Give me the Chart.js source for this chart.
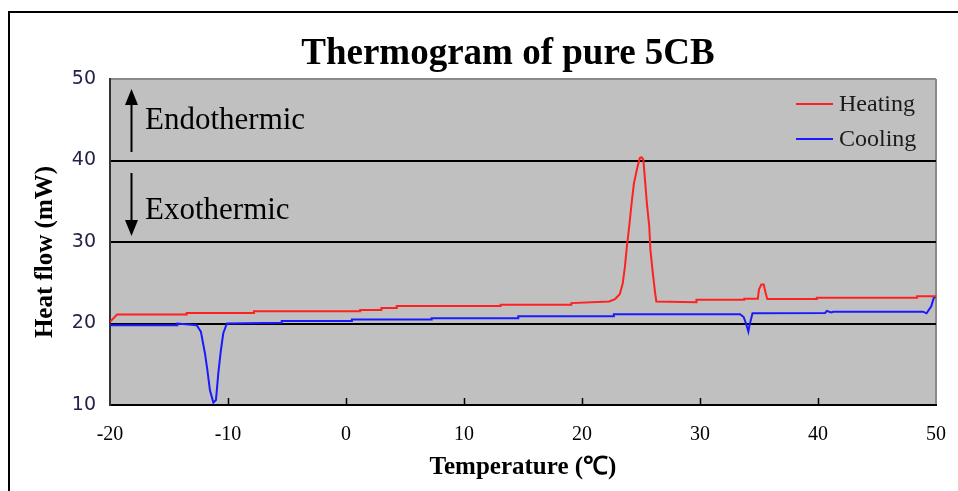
<!DOCTYPE html>
<html>
<head>
<meta charset="utf-8">
<script src="https://cdn.jsdelivr.net/npm/chart.js@4"></script>
<style>
  body { margin: 0; background: #fff; }
  #wrap { position: relative; width: 958px; height: 491px; }
</style>
</head>
<body>
<div id="wrap"><canvas id="Thermo-Chart"></canvas></div>
<script>
// heating run (red), temperature in C and heat flow in mW
const heatT = [-20, -19.4, -13.5, -13.5, -7.8, -7.8, 1.2, 1.2, 3.0, 3.0, 4.3, 4.3, 13.1, 13.1, 19.1, 19.1,
  22.3, 22.8, 23.2, 23.45, 23.64, 23.8, 24.0, 24.2, 24.4, 24.7, 24.9, 25.05, 25.2, 25.34, 25.5, 25.7, 25.8,
  26.0, 26.2, 26.3, 29.7, 29.7, 33.75, 33.75, 34.9, 35.0, 35.2, 35.4, 35.5, 35.7, 39.9, 39.9, 48.4, 48.4, 50];
const heatFlow = [20.2, 21.1, 21.1, 21.3, 21.3, 21.5, 21.5, 21.65, 21.65, 21.9, 21.9, 22.15, 22.15, 22.3, 22.3, 22.5,
  22.7, 23.0, 23.6, 24.9, 27.0, 29.4, 31.9, 34.7, 37.2, 39.2, 40.3, 40.4, 40.1, 37.6, 34.7, 31.9, 29.0,
  26.2, 23.7, 22.7, 22.6, 22.9, 22.9, 23.05, 23.05, 24.2, 24.8, 24.8, 24.1, 23.0, 23.0, 23.15, 23.15, 23.35, 23.35];

// cooling run (blue)
const coolT = [-20, -14.3, -14.3, -12.65, -12.3, -11.95, -11.75, -11.53, -11.24, -11.02, -10.82, -10.6, -10.4, -10.1,
  -5.45, -5.45, 0.5, 0.5, 7.26, 7.26, 14.6, 14.6, 22.7, 22.7, 33.4, 33.7, 33.9, 34.1, 34.2, 34.45,
  40.6, 40.75, 41.1, 41.3, 48.9, 49.2, 49.6, 49.8, 50];
const coolFlow = [19.8, 19.8, 20.0, 19.8, 19.0, 16.3, 14.3, 11.8, 10.3, 10.6, 13.9, 16.75, 18.8, 20.0,
  20.1, 20.3, 20.3, 20.5, 20.5, 20.65, 20.65, 20.9, 20.9, 21.15, 21.15, 20.8, 20.0, 19.0, 19.8, 21.25,
  21.3, 21.55, 21.35, 21.45, 21.45, 21.25, 22.1, 23.1, 23.3];

const xTicks = [-20, -10, 0, 10, 20, 30, 40, 50];
const yTicks = [10, 20, 30, 40, 50];

const toPoints = (xs, ys) => xs.map((x, i) => ({ x: x, y: ys[i] }));

const serif = '"Liberation Serif", "Times New Roman", serif';

const deco = {
  id: 'deco',
  beforeDraw(chart) {
    const { ctx, chartArea: a } = chart;
    ctx.save();
    ctx.fillStyle = '#c0c0c0';
    ctx.fillRect(a.left, a.top, a.right - a.left, a.bottom - a.top);
    ctx.restore();
  },
  afterDraw(chart) {
    const { ctx, chartArea: a } = chart;
    const xs = chart.scales.x;
    ctx.save();

    // outer frame (top + left only)
    ctx.strokeStyle = '#000';
    ctx.lineWidth = 2;
    ctx.beginPath();
    ctx.moveTo(9, 491);
    ctx.lineTo(9, 12);
    ctx.lineTo(958, 12);
    ctx.stroke();

    // x tick marks pointing into the plot
    ctx.lineWidth = 1.5;
    xTicks.slice(1, -1).forEach(v => {
      const px = Math.round(xs.getPixelForValue(v)) + 0.5;
      ctx.beginPath();
      ctx.moveTo(px, a.bottom);
      ctx.lineTo(px, a.bottom - 7);
      ctx.stroke();
    });

    // title
    ctx.fillStyle = '#000';
    ctx.font = 'bold 37px ' + serif;
    ctx.textAlign = 'center';
    ctx.textBaseline = 'middle';
    ctx.fillText('Thermogram of pure 5CB', 508, 54);

    // y axis title
    ctx.save();
    ctx.translate(46, 252);
    ctx.rotate(-Math.PI / 2);
    ctx.font = 'bold 25px ' + serif;
    ctx.fillText('Heat flow (mW)', 0, 0);
    ctx.restore();

    // endo / exo arrows
    ctx.font = '31px ' + serif;
    ctx.textAlign = 'left';
    ctx.fillText('Endothermic', 145, 121);
    ctx.fillText('Exothermic', 145, 211);
    ctx.lineWidth = 2;
    ctx.beginPath();
    ctx.moveTo(131.5, 152); ctx.lineTo(131.5, 100);
    ctx.moveTo(131.5, 173); ctx.lineTo(131.5, 225);
    ctx.stroke();
    ctx.beginPath();
    ctx.moveTo(131.5, 89); ctx.lineTo(125, 105); ctx.lineTo(138, 105); ctx.closePath();
    ctx.moveTo(131.5, 236); ctx.lineTo(125, 220); ctx.lineTo(138, 220); ctx.closePath();
    ctx.fill();

    // legend
    chart.data.datasets.forEach((ds, i) => {
      const y = 104 + i * 35;
      ctx.strokeStyle = ds.borderColor;
      ctx.lineWidth = 2;
      ctx.beginPath();
      ctx.moveTo(796, y); ctx.lineTo(833, y);
      ctx.stroke();
      ctx.fillStyle = '#1a1a1a';
      ctx.font = '24px ' + serif;
      ctx.fillText(ds.label, 839, y + 1);
    });
    ctx.restore();
  }
};

const data = {
  datasets: [
    {
      label: 'Heating',
      data: toPoints(heatT, heatFlow),
      borderColor: '#ff2020',
      borderWidth: 2,
      pointRadius: 0,
      tension: 0,
    },
    {
      label: 'Cooling',
      data: toPoints(coolT, coolFlow),
      borderColor: '#1a1aff',
      borderWidth: 2,
      pointRadius: 0,
      tension: 0,
    },
  ],
};

const config = {
  type: 'line',
  data: data,
  options: {
    maintainAspectRatio: false,
    animation: false,
    layout: { padding: { top: 79, right: 22, left: 0, bottom: 0 } },
    plugins: {
      legend: { display: false },
      tooltip: { enabled: false },
    },
    scales: {
      x: {
        type: 'linear',
        min: -20,
        max: 50,
        afterBuildTicks: s => { s.ticks = xTicks.map(v => ({ value: v })); },
        afterFit: s => { s.height = 86; s.paddingLeft = 0; s.paddingRight = 0; },
        grid: {
          drawTicks: false,
          lineWidth: 2,
          color: c => (c.tick && c.tick.value === 50 ? '#8a8a8a' : 'transparent'),
        },
        border: { color: '#000', width: 2 },
        ticks: {
          padding: 18,
          color: '#000',
          font: { family: serif, size: 20 },
        },
        title: {
          display: true,
          text: 'Temperature (℃)',
          color: '#000',
          font: { family: serif, size: 25, weight: 'bold' },
          padding: { bottom: 8 },
        },
      },
      y: {
        min: 10,
        max: 50,
        afterBuildTicks: s => { s.ticks = yTicks.map(v => ({ value: v })); },
        afterFit: s => { s.width = 110; s.paddingTop = 0; s.paddingBottom = 0; },
        grid: {
          drawTicks: false,
          lineWidth: 2,
          color: c => (c.tick && c.tick.value === 50 ? '#8a8a8a' : '#000'),
        },
        border: { color: '#333', width: 2 },
        ticks: {
          padding: 14,
          color: '#23234a',
          font: { family: '"DejaVu Sans", Verdana, sans-serif', size: 19 },
        },
      },
    },
  },
  plugins: [deco],
};

let myChart = new Chart(document.getElementById('Thermo-Chart'), config);
</script>
</body>
</html>
